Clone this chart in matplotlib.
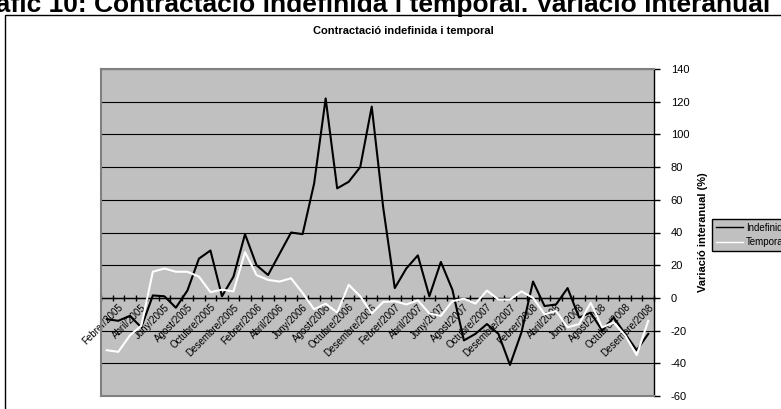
import numpy as np
import matplotlib
matplotlib.use("Agg")
import matplotlib.pyplot as plt
from matplotlib.patches import Rectangle
from matplotlib.lines import Line2D

plt.rcParams['font.family'] = ['Liberation Sans', 'DejaVu Sans']
plt.rcParams['axes.unicode_minus'] = False

# Monthly categories, January 2005 to December 2008
mesos = ["Gener", "Febrer", "Març", "Abril", "Maig", "Juny", "Juliol",
         "Agost", "Setembre", "Octubre", "Novembre", "Desembre"]
anys = [2005, 2006, 2007, 2008]
periodes = [f"{m}/{a}" for a in anys for m in mesos]

# Year-on-year change (%) of open-ended and temporary hiring
indefinida = [-13, -14, -11, -18, 1.5, 1, -6, 4.5, 24, 29, 1, 13,
              39, 20, 14, 27, 40, 39, 70, 122, 67, 71, 80, 117,
              55, 6, 18, 26, 1, 22, 5, -26, -22, -16, -22, -41,
              -21, 10, -5, -4, 6, -12, -9, -20, -12, -22, -32, -22]
temporal = [-32, -33, -23, -17, 16, 18, 16, 16, 13, 3.5, 5, 4,
            28, 14, 11, 10, 12, 3, -7, -3.5, -9, 8, 1, -9.5,
            -2.5, -2, -4, -1.5, -9.5, -11, -2, -0.5, -3.5, 4.5, -1, -1,
            4, 0, -10, -8, -18, -16, -3, -18, -15, -23, -35, -14]

y_ticks = list(range(-60, 141, 20))
series_names = ["Indefinida", "Temporal"]

W, H = 781, 409
fig = plt.figure(figsize=(W / 100, H / 100), dpi=100)

# Heading above the chart box
fig.text(-35 / W, 1 - 12 / H,
         "Gràfic 10: Contractació indefinida i temporal. Variació interanual",
         fontsize=19, fontweight='bold', ha='left', va='baseline')

# Chart box outline
fig.patches.append(Rectangle((5 / W, -0.05), 1.1, 1 - 15 / H + 0.05,
                             transform=fig.transFigure, fill=False,
                             edgecolor='black', linewidth=1))

fig.text(403 / W, 1 - 31 / H, "Contractació indefinida i temporal",
         fontsize=8, fontweight='bold', ha='center', va='center')

ax = fig.add_axes([101 / W, 1 - 396 / H, 553 / W, 327 / H])
ax.set_facecolor('#C0C0C0')

x = np.arange(len(periodes))
ax.plot(x, indefinida, color='black', linewidth=1.5, zorder=3)
ax.plot(x, temporal, color='white', linewidth=1.5, zorder=4)

ymin, ymax = y_ticks[0], y_ticks[-1]
ax.set_xlim(-0.5, len(periodes) - 0.5)
ax.set_ylim(ymin, ymax)

ax.set_yticks(y_ticks)
ax.grid(axis='y', color='black', linewidth=0.8, zorder=1)
ax.set_axisbelow(True)

for side in ['top', 'left', 'bottom']:
    ax.spines[side].set_color('#808080')
    ax.spines[side].set_linewidth(1.5)
ax.spines['right'].set_color('black')
ax.spines['right'].set_linewidth(1)

ax.yaxis.tick_right()
ax.tick_params(axis='y', direction='out', length=4, width=1, labelsize=8,
               pad=8)
ax.tick_params(axis='x', bottom=False, labelbottom=False)

ax.yaxis.set_label_position('right')
ax.set_ylabel("Variació interanual (%)", fontsize=8, fontweight='bold',
              labelpad=6)

# Category axis crossing at zero
sec = ax.secondary_xaxis((0 - ymin) / (ymax - ymin))
sec.spines['bottom'].set_color('black')
sec.spines['bottom'].set_linewidth(1)
sec.set_xticks(x[1::2])
sec.set_xticklabels(periodes[1::2], rotation=45, ha='right', va='top',
                    rotation_mode='anchor', fontsize=7)
sec.set_xticks(np.arange(-0.5, len(periodes), 1), minor=True)
sec.tick_params(axis='x', which='major', length=0, pad=3)
sec.tick_params(axis='x', which='minor', length=4, width=1,
                direction='inout', color='black')

handles = [Line2D([], [], color='black', linewidth=1),
           Line2D([], [], color='white', linewidth=1)]
leg = fig.legend(handles, series_names, loc='upper left',
                 bbox_to_anchor=(712 / W, 1 - 219 / H), frameon=True,
                 facecolor='#C0C0C0', edgecolor='black', fancybox=False,
                 framealpha=1, fontsize=7, handlelength=2.8,
                 borderpad=0.4, labelspacing=0.45, handletextpad=0.3,
                 borderaxespad=0)
leg.get_frame().set_linewidth(1)

fig.savefig("out.png", dpi=100)
